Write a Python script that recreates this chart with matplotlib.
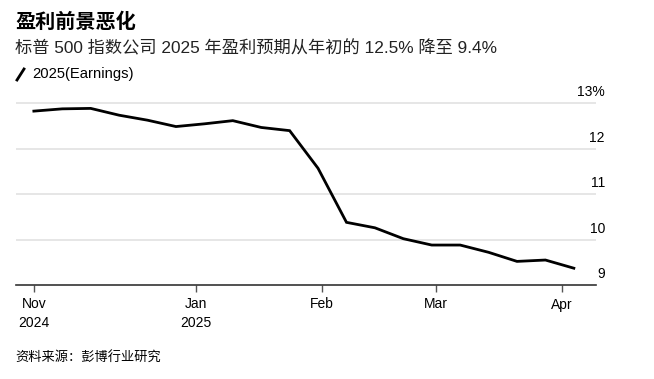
import numpy as np
import pandas as pd
import matplotlib
matplotlib.use('Agg')
import matplotlib.pyplot as plt
import matplotlib.transforms as mtransforms

plt.rcParams['font.family'] = ['Liberation Sans', 'Noto Sans CJK SC', 'DejaVu Sans']

# weekly readings, Fridays from 2024-11-22 to 2025-04-04
dates = pd.date_range('2024-11-22', periods=20, freq='7D')
earnings = [12.83, 12.88, 12.89, 12.74, 12.63, 12.49, 12.55, 12.62, 12.47, 12.40,
            11.57, 10.38, 10.26, 10.02, 9.88, 9.88, 9.72, 9.52, 9.55, 9.37]

tick_dates = pd.to_datetime(['2024-11-22', '2025-01-01', '2025-02-01', '2025-03-01', '2025-04-01'])
tick_labels = ['Nov\n2024', 'Jan\n2025', 'Feb', 'Mar', 'Apr']
yticks = [9, 10, 11, 12, 13]
ylabels = ['9', '10', '11', '12', '13%']

W, H = 654, 379
fig = plt.figure(figsize=(W / 100, H / 100), dpi=100)
left, right = 16, 596
bottom, top = 285, 94
ax = fig.add_axes([left / W, 1 - bottom / H, (right - left) / W, (bottom - top) / H])

ax.plot(dates, earnings, color='black', lw=2.0, solid_joinstyle='miter', zorder=3)

# about 4.06 px per day
x0 = pd.Timestamp('2024-11-22') - pd.Timedelta(days=4.4)
ax.set_xlim(x0, x0 + pd.Timedelta(days=(right - left) / 4.06))
ax.set_ylim(9.0, 9.0 + (bottom - top) / 45.4)

for v in yticks[1:]:
    ax.axhline(v, color='#e1e1e1', lw=1.2, zorder=1)

for s in ['top', 'right', 'left']:
    ax.spines[s].set_visible(False)
ax.spines['bottom'].set_color('#333333')
ax.spines['bottom'].set_linewidth(1.2)

ax.set_yticks([])
ax.set_xticks(tick_dates)
ax.set_xticklabels(tick_labels, fontsize=10, linespacing=1.45)
ax.tick_params(axis='x', length=5, width=1, color='#555555', pad=4, labelcolor='black')

trans = mtransforms.blended_transform_factory(ax.transAxes, ax.transData)
off = mtransforms.ScaledTranslation(9 / 100, 4 / 100, fig.dpi_scale_trans)
for v, lab in zip(yticks, ylabels):
    ax.text(1.0, v, lab, transform=trans + off, ha='right', va='bottom', fontsize=10)

fig.text(15 / W, 1 - 21 / H, '盈利前景恶化', fontsize=14.5, fontweight='bold', va='center',
         family=['Noto Sans CJK SC'])
fig.text(15 / W, 1 - 48 / H, '标普 500 指数公司 2025 年盈利预期从年初的 12.5% 降至 9.4%', fontsize=12.4,
         va='center', color='#222222')
fig.lines.append(plt.Line2D([17 / W, 24 / W], [1 - 80 / H, 1 - 69 / H], color='black', lw=2,
                            transform=fig.transFigure))
fig.text(32 / W, 1 - 74 / H, '2025(Earnings)', fontsize=10.6, va='center')
fig.text(15 / W, 1 - 358 / H, '资料来源：彭博行业研究', fontsize=9.5, va='center',
         family=['Noto Sans CJK SC'])

fig.savefig('out.png', dpi=100)
